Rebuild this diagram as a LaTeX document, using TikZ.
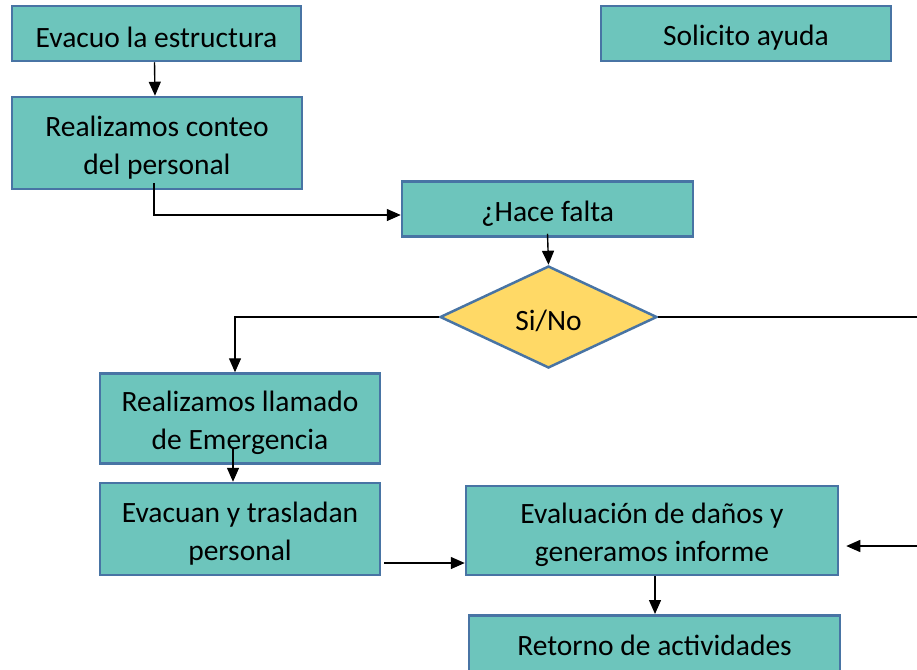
\documentclass[tikz,border=0pt]{standalone}
\usepackage{fontspec}
\setmainfont{Carlito}
\usetikzlibrary{arrows.meta,shapes.geometric,calc}
\definecolor{tealfill}{RGB}{109,197,188}
\definecolor{boxborder}{RGB}{72,116,164}
\definecolor{diafill}{RGB}{255,217,102}
\newcommand\mytopstrut{\vrule width 0pt height 29pt depth 0pt}
\tikzset{
  bigtext/.style={font=\fontsize{29.5pt}{38pt}\selectfont, text=black},
  stepbox/.style={draw=boxborder, line width=2.5pt, fill=tealfill, rectangle, inner sep=2pt,
    align=center, bigtext},
  decision/.style={draw=boxborder, line width=2.5pt, fill=diafill, diamond, inner sep=0pt, bigtext},
  arr/.style={draw=black, line width=1.4pt, -{Triangle[length=14pt,width=12pt]}},
  plain/.style={draw=black, line width=1.4pt}
}
\begin{document}
\begin{tikzpicture}[x=1pt,y=-1pt]
\useasboundingbox (0,0) rectangle (917,669);
\clip (0,0) rectangle (917,669);
\node[stepbox, minimum width=289pt, minimum height=55pt] (b1) at (156.5,33.5) {\mytopstrut Evacuo la estructura};
\node[stepbox, minimum width=290pt, minimum height=92pt] (b2) at (157,143) {\mytopstrut Realizamos conteo\\del personal};
\node[stepbox, minimum width=290pt, minimum height=55pt] (sol) at (746,33.5) {\mytopstrut Solicito ayuda};
\node[stepbox, minimum width=291pt, minimum height=55pt] (hace) at (547.5,209) {\mytopstrut ¿Hace falta};
\node[decision, minimum width=217pt, minimum height=102pt] (dia) at (548.5,317) {\mytopstrut Si/No};
\node[stepbox, minimum width=280pt, minimum height=90pt] (llam) at (240,418.5) {\mytopstrut Realizamos llamado\\de Emergencia};
\node[stepbox, minimum width=280pt, minimum height=92pt] (evac) at (240,529) {\mytopstrut Evacuan y trasladan\\personal};
\node[stepbox, minimum width=372pt, minimum height=89pt] (eval) at (652,530.5) {\mytopstrut Evaluación de daños y\\generamos informe};
\node[stepbox, minimum width=371pt, minimum height=72pt, anchor=north] (ret) at (654.5,614) {};
\node[bigtext] (rettext) at (654.5,645) {Retorno de actividades};
\coordinate (r1) at (917,317);
\coordinate (r2) at (917,546);

\draw[arr] ([xshift=-2pt]b1.south) -- ([xshift=-2pt]b2.north);
\draw[arr] ([xshift=-3pt,yshift=7pt]b2.south) |- ([yshift=-6pt]hace.west);
\draw[arr] ([yshift=4pt]hace.south) -- (dia.north);
\draw[arr] (dia.west) -| ([xshift=-5pt]llam.north);
\draw[plain] (dia.east) -- (r1);
\draw[arr] (r2) -- ([xshift=7pt,yshift=-15.5pt]eval.east);
\draw[arr] ([xshift=-7pt,yshift=16pt]llam.south) -- ([xshift=-7pt]evac.north);
\draw[arr] ([xshift=3pt,yshift=-34pt]evac.east) -- ([yshift=-32.5pt]eval.west);
\draw[arr] ([xshift=3pt]eval.south) -- ([xshift=0.5pt]ret.north);
\end{tikzpicture}
\end{document}
